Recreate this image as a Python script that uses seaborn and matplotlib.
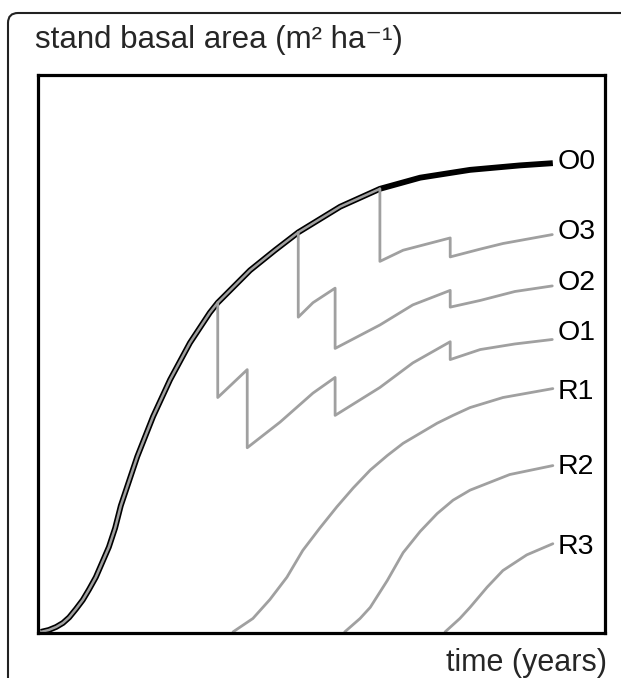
"""Stand basal area development under thinning (O) and regeneration (R) regimes."""
import matplotlib
matplotlib.use('Agg')
import matplotlib.pyplot as plt
from matplotlib.patches import FancyBboxPatch
import seaborn as sns
import pandas as pd

# unthinned stand (O0), years / m2 ha-1
main_t = [0.5, 1.9, 3.2, 4.4, 5.5, 6.7, 7.9, 9.0, 10.2, 12.5, 13.6, 14.6, 17.5, 20.3,
          23.3, 26.8, 30.3, 31.7, 37.4, 41.8, 45.9, 53.3, 56.8, 60.3, 67.4, 76.2,
          85.0, 90.8]
main_b = [0.1, 0.27, 0.54, 0.9, 1.4, 2.15, 2.96, 3.9, 5.0, 7.7, 9.4, 11.4, 15.8, 19.4,
          22.7, 26.0, 28.7, 29.6, 32.5, 34.3, 35.9, 38.2, 39.0, 39.8, 40.8, 41.5,
          41.9, 42.1]

# thinned branches (start on the O0 curve)
o1_t = [31.7, 31.7, 34.2, 36.9, 36.9, 42.7, 48.5, 52.4, 52.4, 60.3, 66.1, 72.7, 72.7, 78.0, 84.1, 90.7]
o1_b = [29.6, 21.1, 22.3, 23.6, 16.6, 18.9, 21.5, 22.9, 19.5, 22.0, 24.2, 26.1, 24.5, 25.4, 25.9, 26.3]
o2_t = [45.9, 45.9, 48.5, 52.4, 52.4, 60.3, 66.1, 72.7, 72.7, 78.0, 84.1, 90.7]
o2_b = [35.9, 28.3, 29.6, 30.9, 25.5, 27.6, 29.4, 30.7, 29.2, 29.8, 30.6, 31.1]
o3_t = [60.3, 60.3, 64.4, 72.7, 72.7, 78.0, 82.0, 90.7]
o3_b = [39.8, 33.3, 34.3, 35.4, 33.7, 34.4, 34.9, 35.7]

# regenerated stands
r1_t = [34.4, 37.9, 40.9, 43.9, 46.7, 49.7, 52.7, 55.6, 58.6, 61.6, 64.4, 67.4,
        70.4, 73.2, 76.2, 82.0, 86.4, 90.8]
r1_b = [0.1, 1.3, 3.0, 5.0, 7.4, 9.4, 11.3, 13.0, 14.6, 15.9, 17.0, 17.9,
        18.8, 19.5, 20.2, 21.1, 21.5, 21.9]
r2_t = [54.1, 56.8, 58.6, 61.6, 64.4, 67.4, 70.4, 73.2, 76.2, 79.7, 83.2, 90.8]
r2_b = [0.1, 1.3, 2.3, 4.7, 7.2, 9.1, 10.7, 11.9, 12.8, 13.5, 14.2, 15.0]
r3_t = [71.8, 74.4, 76.2, 79.2, 82.0, 86.2, 90.8]
r3_b = [0.1, 1.3, 2.3, 4.1, 5.6, 7.0, 8.0]

labels = ['O0', 'O3', 'O2', 'O1', 'R1', 'R2', 'R3']
label_y = [42.2, 35.9, 31.4, 26.9, 21.6, 14.9, 7.7]

sns.set_style('white')
plt.rcParams['font.family'] = ['Liberation Sans', 'DejaVu Sans']

GRAY = '#a0a0a0'
fig = plt.figure(figsize=(6.21, 6.78), dpi=100)
ax = fig.add_axes([38 / 621, 45 / 678, 567 / 621, 558 / 678])

main = pd.DataFrame({'t': main_t, 'b': main_b})
sns.lineplot(data=main, x='t', y='b', color='black', lw=4.2, sort=False,
             estimator=None, ax=ax, solid_capstyle='butt')
# shared part of the thinned curves runs gray on top of O0
shared = main[main['t'] <= 60.3]
sns.lineplot(data=shared, x='t', y='b', color=GRAY, lw=1.8, sort=False,
             estimator=None, ax=ax)

for tt, bb in [(o1_t, o1_b), (o2_t, o2_b), (o3_t, o3_b),
               (r1_t, r1_b), (r2_t, r2_b), (r3_t, r3_b)]:
    df = pd.DataFrame({'t': tt, 'b': bb})
    sns.lineplot(data=df, x='t', y='b', color=GRAY, lw=2.0, sort=False,
                 estimator=None, ax=ax)

for lab, yy in zip(labels, label_y):
    ax.text(91.6, yy, lab, fontsize=20.5, va='center', ha='left', color='black')

ax.set_xlim(0, 100)
ax.set_ylim(0, 50)
ax.set_xticks([])
ax.set_yticks([])
ax.set_xlabel('')
ax.set_ylabel('')
for sp in ax.spines.values():
    sp.set_linewidth(2.3)
    sp.set_color('black')

fig.text(35 / 621, 1 - 48 / 678, 'stand basal area (m\u00b2 ha\u207b\u00b9)',
         fontsize=22.5, ha='left', va='baseline')
fig.text(607 / 621, 1 - 663 / 678, 'time (years)', fontsize=22,
         ha='right', va='center')

# rounded frame around the panel, running off the right and bottom edges
frame = FancyBboxPatch((0.08, -0.5), 7.0, 6.78 - 0.13 + 0.5,
                       boxstyle='round,pad=0,rounding_size=0.1',
                       transform=fig.dpi_scale_trans, fill=False,
                       edgecolor='#222222', lw=1.5)
fig.patches.append(frame)

fig.savefig('out.png', dpi=100)
